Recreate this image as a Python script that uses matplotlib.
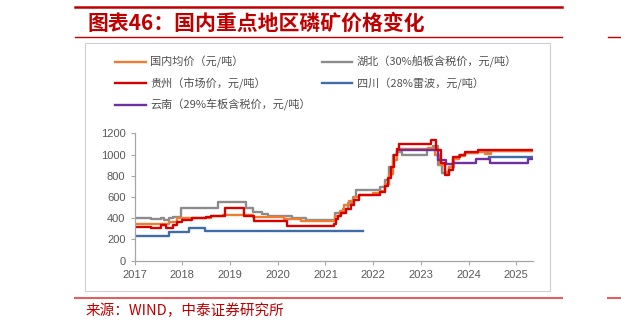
import numpy as np
import matplotlib
matplotlib.use('Agg')
import matplotlib.pyplot as plt
from matplotlib.lines import Line2D
from matplotlib.patches import Rectangle

plt.rcParams['font.family'] = ['Liberation Sans', 'Noto Sans CJK SC', 'DejaVu Sans']

W, H = 621, 329
END = 2025.35
nan = np.nan

# 国内均价
avg_x = [2017.0, 2017.73, 2017.9, 2018.2, 2018.6, 2018.85, 2019.48, 2019.7, 2020.14, 2020.49,
         2021.2, 2021.3, 2021.4, 2021.5, 2021.6, 2021.7, 2022.0, 2022.15, 2022.25, 2022.33,
         2022.42, 2022.5, 2022.55, 2023.15, 2023.3, 2023.4, 2023.5, 2023.6, 2023.67, 2023.8,
         2023.92, 2024.2, 2024.35, 2024.48, END]
avg_y = [350, 360, 400, 405, 420, 435, 415, 410, 390, 372,
         420, 470, 520, 560, 600, 620, 640, 660, 720, 820,
         950, 1030, 1050, 1060, 1000, 900, 840, 880, 960, 990,
         1010, 1020, 1005, 1030, 1030]

# 湖北（30%船板含税价）
hb_x = [2017.0, 2017.35, 2017.55, 2017.62, 2017.72, 2017.8, 2017.98, 2018.75, 2019.33, 2019.48,
        2019.68, 2019.8, 2020.3, 2020.6, 2021.2, 2021.37, 2021.47, 2021.57, 2021.64, 2022.14,
        2022.25, 2022.33, 2022.42, 2022.5, 2022.6, 2023.12, 2023.25, 2023.35, 2023.45, 2023.6,
        2023.7, 2023.8, 2023.92, 2024.2, 2024.48, END]
hb_y = [400, 390, 400, 385, 400, 410, 500, 550, 500, 460,
        440, 420, 400, 380, 450, 490, 540, 600, 670, 690,
        760, 880, 1000, 1020, 1000, 1050, 1080, 900, 830, 880,
        960, 1000, 1010, 1020, 1030, 1030]

# 贵州（市场价）
gz_x = [2017.0, 2017.35, 2017.55, 2017.65, 2017.8, 2017.9, 2018.0, 2018.2, 2018.5, 2018.6,
        2018.9, 2019.3, 2019.5, 2020.2, 2021.17, 2021.22, 2021.27, 2021.33, 2021.43, 2021.53,
        2021.6, 2021.7, 2022.14, 2022.24, 2022.31, 2022.38, 2022.43, 2022.49, 2022.55, 2023.22,
        2023.32, 2023.43, 2023.5, 2023.6, 2023.67, 2023.81, 2023.92, 2024.2, 2024.48, END]
gz_y = [320, 310, 340, 310, 340, 360, 380, 400, 410, 420,
        500, 420, 370, 330, 350, 390, 420, 450, 490, 520,
        570, 620, 650, 700, 780, 880, 1000, 1050, 1100, 1140,
        1040, 920, 810, 850, 980, 995, 1020, 1040, 1040, 1040]

# 四川（28%雷波）
sc_x = [2017.0, 2017.73, 2018.15, 2018.47, 2021.79, 2024.43, END]
sc_y = [230, 270, 310, 280, nan, 975, 975]

# 云南（29%车板含税价）
yn_x = [2022.55, 2023.3, 2023.35, 2023.53, 2023.67, 2024.16, 2024.44, 2025.24, END]
yn_y = [1040, 1040, 950, 910, 920, 955, 920, 955, 955]

series = [
    ('湖北（30%船板含税价，元/吨）', hb_x, hb_y, '#8C8C8C'),
    ('四川（28%雷波，元/吨）', sc_x, sc_y, '#3E6DA8'),
    ('国内均价（元/吨）', avg_x, avg_y, '#ED7D31'),
    ('云南（29%车板含税价，元/吨）', yn_x, yn_y, '#7030A0'),
    ('贵州（市场价，元/吨）', gz_x, gz_y, '#D90000'),
]

fig = plt.figure(figsize=(W / 100, H / 100), dpi=100)


def fx(x):
    return x / W


def fy(y):
    return 1 - y / H


# header / footer decorations
red = '#C00000'
fig.add_artist(Line2D([fx(74.5), fx(561.6)], [fy(7), fy(7)], color=red, lw=1.8))
fig.add_artist(Line2D([fx(74.5), fx(561.6)], [fy(37), fy(37)], color=red, lw=1.0))
fig.add_artist(Line2D([fx(608), fx(621)], [fy(37), fy(37)], color=red, lw=1.0))
fig.add_artist(Line2D([fx(74.5), fx(561.6)], [fy(298), fy(298)], color='#E06060', lw=1.5))
fig.add_artist(Line2D([fx(608), fx(621)], [fy(298), fy(298)], color='#E06060', lw=1.5))
fig.add_artist(Rectangle((fx(85), fy(291)), fx(550) - fx(85), fy(43) - fy(291),
                         transform=fig.transFigure, fill=False, ec='#CFCFCF', lw=0.8))

fig.text(fx(87), fy(23), '图表46：国内重点地区磷矿价格变化', color=red, fontsize=15,
         fontweight='bold', fontstyle='italic', va='center', ha='left',
         family=['Noto Sans CJK SC', 'DejaVu Sans'])
fig.text(fx(86), fy(311), '来源：WIND，中泰证券研究所', color=red, fontsize=10.5,
         va='center', ha='left', family=['Noto Sans CJK SC', 'DejaVu Sans'])

ax = fig.add_axes([fx(134.5), fy(260.7), fx(533) - fx(134.5), fy(133.3) - fy(260.7)])
handles = {}
for name, xs, ys, c in series:
    ln, = ax.step(xs, ys, where='post', color=c, lw=1.7, label=name)
    handles[name] = ln

ax.set_xlim(2017, END)
ax.set_ylim(0, 1200)
ax.set_xticks(range(2017, 2026))
ax.set_yticks(range(0, 1201, 200))
for s in ['top', 'right']:
    ax.spines[s].set_visible(False)
for s in ['left', 'bottom']:
    ax.spines[s].set_color('#A6A6A6')
    ax.spines[s].set_linewidth(0.9)
ax.tick_params(colors='#A6A6A6', labelcolor='#595959', labelsize=8, length=3, width=0.8)
ax.patch.set_alpha(0)

col1 = ['国内均价（元/吨）', '贵州（市场价，元/吨）', '云南（29%车板含税价，元/吨）']
col2 = ['湖北（30%船板含税价，元/吨）', '四川（28%雷波，元/吨）']
for names, x0 in [(col1, 115), (col2, 321.7)]:
    fig.legend([handles[n] for n in names], names, loc='upper left',
               bbox_to_anchor=(fx(x0), fy(56)), bbox_transform=fig.transFigure,
               frameon=False, borderpad=0, borderaxespad=0, handlelength=2.75,
               handletextpad=0.4, labelspacing=0.85,
               prop={'family': ['Noto Sans CJK SC', 'DejaVu Sans'], 'size': 8},
               labelcolor='#505050')

fig.savefig('out.png', dpi=100)
